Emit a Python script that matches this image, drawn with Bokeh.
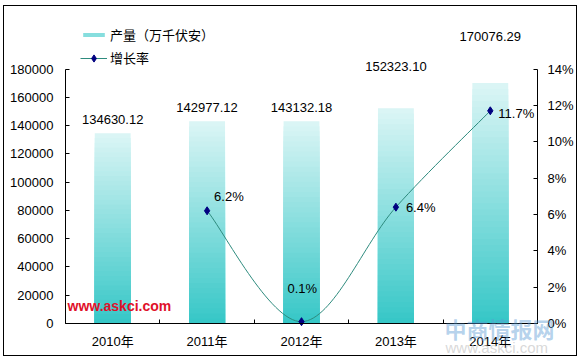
import numpy as np
from bokeh.plotting import figure
from bokeh.models import (Range1d, LinearAxis, FixedTicker, PrintfTickFormatter,
                          Label, LabelSet, ColumnDataSource, Legend, LegendItem)
from bokeh.core.properties import value
from bokeh.embed import file_html
from bokeh.resources import INLINE

# ---------------- data ----------------
years = ["2010年", "2011年", "2012年", "2013年", "2014年"]
output = [134630.12, 142977.12, 143132.18, 152323.10, 170076.29]
output_labels = ["134630.12", "142977.12", "143132.18", "152323.10", "170076.29"]
growth_years = ["2011年", "2012年", "2013年", "2014年"]
growth = [6.2, 0.1, 6.4, 11.7]
growth_labels = ["6.2%", "0.1%", "6.4%", "11.7%"]
left_ticks = [0, 20000, 40000, 60000, 80000, 100000, 120000, 140000, 160000, 180000]
right_ticks = [0, 2, 4, 6, 8, 10, 12, 14]
bar_name = "产量（万千伏安）"
line_name = "增长率"

# ---------------- layout / styles ----------------
FONT = "Liberation Sans, Noto Sans CJK SC"
TOP_COLOR = np.array([0xda, 0xf5, 0xf5])
BOT_COLOR = np.array([0x33, 0xc6, 0xc6])
N_SLICES = 40
W, H = 574, 351                 # canvas size (whole canvas is the frame)
AX_L, AX_R = 61.0, 533.0        # pixel x of left / right axis
AX_T, AX_B = 62.5, 317.0        # pixel y (from top) of top of value axes / baseline
NCAT = len(years)
LMAX, RMAX = left_ticks[-1], right_ticks[-1]
bar_label_offsets = [14, 14, 14, 42, 47]
pt_label_dx = [7, -14, 10, 8]
pt_label_dy = [14, 33, 0, -3]

xpos = {y: i + 0.5 for i, y in enumerate(years)}
bx = [xpos[y] for y in years]
gx = [xpos[y] for y in growth_years]

xu = (AX_R - AX_L) / NCAT       # px per category
yu = (AX_B - AX_T)              # px for full value axis
x_range = Range1d(-AX_L / xu, NCAT + (W - AX_R) / xu)
y_range = Range1d(-(H - AX_B) / yu * LMAX, LMAX + AX_T / yu * LMAX)
pct_range = Range1d(-(H - AX_B) / yu * RMAX, RMAX + AX_T / yu * RMAX)

def dx_of(px):   # canvas px x -> data x
    return (px - AX_L) / xu

p = figure(width=W, height=H, x_range=x_range, y_range=y_range,
           output_backend="svg", toolbar_location=None,
           x_axis_location=None, y_axis_location=None,
           min_border=0, min_border_left=0, min_border_right=0,
           min_border_top=0, min_border_bottom=0)
p.extra_y_ranges = {"pct": pct_range}
p.grid.visible = False
p.outline_line_color = None
p.background_fill_color = "white"
p.border_fill_color = "white"
p.styles = {"border": "1px solid black", "margin-left": "3px", "margin-top": "5px"}

# ---------------- gradient bars ----------------
sx, stop, scol = [], [], []
for j in range(N_SLICES):
    f = (N_SLICES - j) / N_SLICES
    c = BOT_COLOR + (TOP_COLOR - BOT_COLOR) * f
    col = "#%02x%02x%02x" % tuple(int(round(v)) for v in c)
    for x, v in zip(bx, output):
        sx.append(x)
        stop.append(v * f)
        scol.append(col)
bars = p.vbar(x=sx, top=stop, bottom=0, width=0.38, fill_color=scol, line_color=None)

bsrc = ColumnDataSource(dict(x=bx, y=output, t=output_labels, off=bar_label_offsets))
p.add_layout(LabelSet(x="x", y="y", text="t", source=bsrc, y_offset="off",
                      text_align="center", text_baseline="middle",
                      text_font=value(FONT), text_font_size=value("13px"),
                      text_color="black"))

# ---------------- smooth growth line ----------------
P = list(zip(gx, growth))
x0s, y0s, x1s, y1s, cx0, cy0, cx1, cy1 = [], [], [], [], [], [], [], []
for i in range(len(P) - 1):
    p0 = P[i - 1] if i > 0 else P[i]
    p1 = P[i]
    p2 = P[i + 1]
    p3 = P[i + 2] if i + 2 < len(P) else P[i + 1]
    x0s.append(p1[0]); y0s.append(p1[1]); x1s.append(p2[0]); y1s.append(p2[1])
    cx0.append(p1[0] + (p2[0] - p0[0]) / 6); cy0.append(p1[1] + (p2[1] - p0[1]) / 6)
    cx1.append(p2[0] - (p3[0] - p1[0]) / 6); cy1.append(p2[1] - (p3[1] - p1[1]) / 6)
curve = p.bezier(x0=x0s, y0=y0s, x1=x1s, y1=y1s, cx0=cx0, cy0=cy0, cx1=cx1, cy1=cy1,
                 line_color="#2e8b7e", line_width=1, y_range_name="pct")
marks = p.scatter(gx, growth, marker="diamond", size=8, fill_color="#000080",
                  line_color="#000080", y_range_name="pct")

gsrc = ColumnDataSource(dict(x=gx, y=growth, t=growth_labels, dx=pt_label_dx, dy=pt_label_dy))
p.add_layout(LabelSet(x="x", y="y", text="t", source=gsrc, x_offset="dx", y_offset="dy",
                      y_range_name="pct", text_align="left", text_baseline="middle",
                      text_font=value(FONT), text_font_size=value("13px"),
                      text_color="black"))

# ---------------- axes ----------------
def style_axis(ax):
    ax.axis_line_color = "black"
    ax.major_tick_line_color = "black"
    ax.minor_tick_line_color = "black"
    ax.major_label_text_font = FONT
    ax.major_label_text_font_size = "13px"
    ax.major_label_text_color = "black"

left = LinearAxis(ticker=FixedTicker(ticks=left_ticks), formatter=PrintfTickFormatter(format="%d"),
                  fixed_location=0, bounds=(0, LMAX),
                  major_tick_in=4, major_tick_out=0, minor_tick_in=0, minor_tick_out=0,
                  major_label_standoff=12)
style_axis(left)
p.add_layout(left, "left")

right = LinearAxis(y_range_name="pct", ticker=FixedTicker(ticks=right_ticks),
                   formatter=PrintfTickFormatter(format="%d%%"),
                   fixed_location=NCAT, bounds=(0, RMAX),
                   major_tick_in=4, major_tick_out=0, minor_tick_in=0, minor_tick_out=0,
                   major_label_standoff=10)
style_axis(right)
p.add_layout(right, "right")

bottom = LinearAxis(ticker=FixedTicker(ticks=bx, minor_ticks=list(range(NCAT + 1))),
                    major_label_overrides={x: y for x, y in zip(bx, years)},
                    fixed_location=0, bounds=(0, NCAT),
                    major_tick_in=0, major_tick_out=0, minor_tick_in=4, minor_tick_out=0,
                    major_label_standoff=10)
style_axis(bottom)
p.add_layout(bottom, "below")

# ---------------- legends ----------------
mid_slice = (N_SLICES // 2) * NCAT
for items, rowc, gh in [([LegendItem(label=bar_name, renderers=[bars], index=mid_slice)], 29, 5),
                        ([LegendItem(label=line_name, renderers=[curve, marks])], 52, 18)]:
    lg = Legend(items=items, location=(76, H - rowc - 9), glyph_width=27, glyph_height=gh,
                label_height=18, label_standoff=3, padding=0, margin=0, spacing=0,
                border_line_color=None, background_fill_alpha=0,
                label_text_font=FONT, label_text_font_size="13px", label_text_color="black")
    p.add_layout(lg, "center")

# ---------------- watermarks ----------------
p.add_layout(Label(x=0, y=0, x_offset=2, y_offset=18, text="www.askci.com",
                   text_font=FONT, text_font_size="14px", text_font_style="bold",
                   text_color="#e0102a", text_baseline="middle"))
p.add_layout(Label(x=dx_of(440), y=0, y_offset=-(330 - AX_B - 6), text="中商情报网",
                   text_font=FONT, text_font_size="22px", text_font_style="bold",
                   text_color="#5b9bd5", text_alpha=0.45, text_baseline="middle"))
p.add_layout(Label(x=dx_of(441), y=0, y_offset=-(347 - AX_B - 6), text="www.askci.com",
                   text_font=FONT, text_font_size="15px",
                   text_color="#c8c8c8", text_alpha=0.7, text_baseline="middle"))

open("out.html", "w").write(file_html(p, INLINE))
